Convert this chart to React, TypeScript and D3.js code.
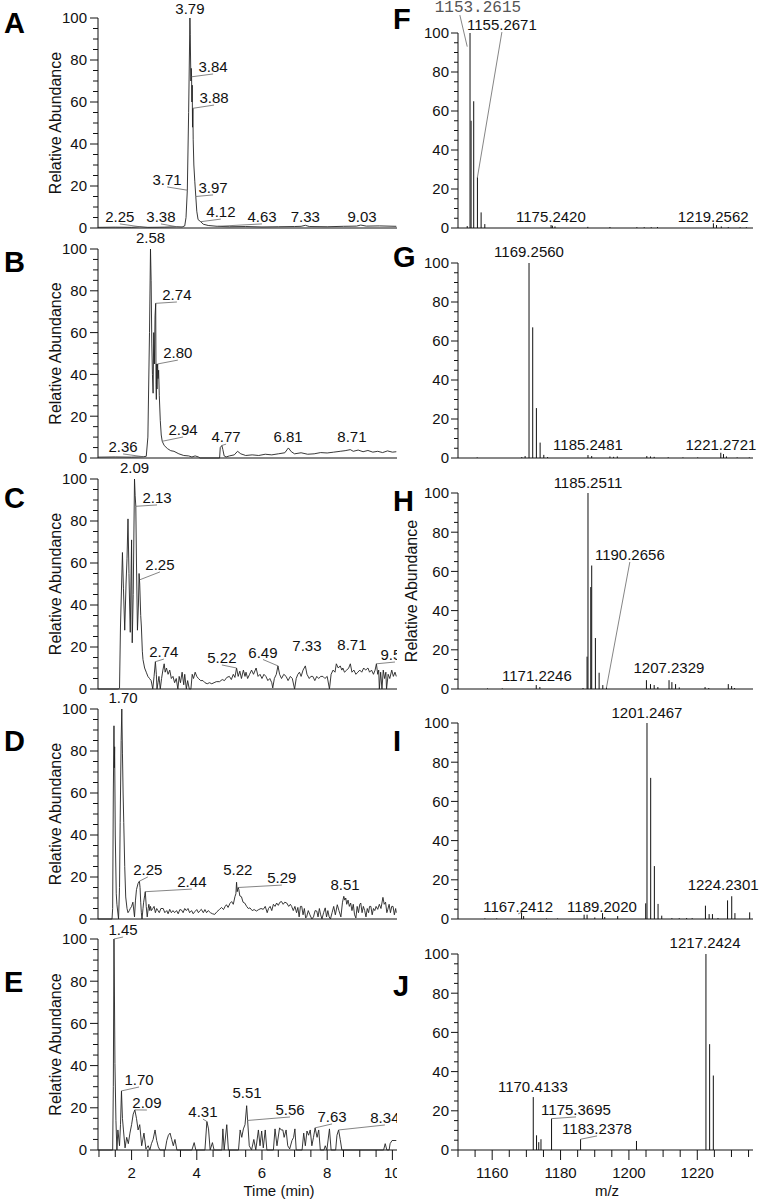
import React from 'react';
import * as d3 from 'd3';

type P = [number, number];

// ---------- Chromatograms (time min, relative abundance) ----------
const chromA: P[] = [[0.97,0.3],[1.5,0.4],[2.0,0.3],[2.25,0.6],[2.5,0.3],[3.0,0.4],[3.38,0.6],[3.55,0.5],[3.63,1],[3.67,5],[3.71,18],[3.75,55],[3.79,100],[3.80,92],[3.81,80],[3.82,70],[3.83,76],[3.84,72],[3.85,60],[3.86,68],[3.87,48],[3.88,57],[3.89,42],[3.91,30],[3.94,22],[3.97,15],[4.00,8],[4.04,4],[4.12,3],[4.2,1.8],[4.35,1.2],[4.63,0.8],[5.0,0.6],[5.5,0.7],[6.0,0.5],[6.5,0.6],[7.0,0.7],[7.2,0.8],[7.33,1.3],[7.45,0.7],[8.0,0.6],[8.5,0.8],[8.9,0.9],[9.03,1.4],[9.2,0.9],[9.6,1.0],[10.12,0.8]];

const chromB: P[] = [[0.97,0.4],[1.5,0.5],[2.0,0.4],[2.2,0.5],[2.36,0.6],[2.45,0.8],[2.5,10],[2.55,60],[2.58,100],[2.60,85],[2.62,55],[2.64,40],[2.66,31],[2.68,60],[2.70,45],[2.72,68],[2.74,74],[2.75,35],[2.76,28],[2.77,45],[2.78,33],[2.79,43],[2.80,45],[2.81,38],[2.83,42],[2.85,30],[2.88,18],[2.91,11],[2.94,8],[3.0,6],[3.1,4.5],[3.2,3.5],[3.3,3.2],[3.45,2],[3.6,1.2],[3.75,1],[3.85,0.5],[3.95,1],[4.05,0.5],[4.1,0],[4.7,0],[4.72,5],[4.77,6],[4.8,4],[4.84,1],[4.9,0.5],[5.0,1],[5.15,1.5],[5.25,3.2],[5.35,2],[5.5,1.2],[5.7,1.5],[5.9,1.2],[6.1,1.8],[6.3,1.5],[6.5,2],[6.7,2.5],[6.81,4.8],[6.9,3],[7.0,2],[7.2,2.5],[7.4,1.8],[7.6,2],[7.8,2.6],[8.0,2.4],[8.2,2.8],[8.4,3.2],[8.55,3.5],[8.71,4],[8.8,3.2],[8.95,3.8],[9.1,3],[9.25,3.6],[9.4,2.8],[9.55,3.2],[9.7,2.6],[9.85,3.4],[10.0,2.8],[10.12,3]];

const chromC: P[] = [[0.97,0],[1.6,0],[1.63,0.5],[1.66,30],[1.72,65],[1.75,48],[1.79,28],[1.83,50],[1.86,62],[1.89,81],[1.92,55],[1.94,40],[1.96,27],[1.98,50],[2.0,71],[2.02,22],[2.05,45],[2.09,100],[2.11,92],[2.13,87],[2.15,60],[2.18,28],[2.21,40],[2.23,55],[2.25,50],[2.28,35],[2.30,30],[2.33,18],[2.35,14],[2.40,10],[2.45,8],[2.50,6],[2.55,5],[2.60,4],[2.65,0],[2.69,6],[2.73,13],[2.76,7],[2.78,0],[2.81,3],[2.84,6],[2.88,0],[2.92,5],[2.96,9],[3.0,12],[3.03,8],[3.07,10],[3.12,7],[3.17,9],[3.22,5],[3.27,6],[3.32,3],[3.37,5],[3.42,0],[3.46,6],[3.50,3],[3.55,8],[3.60,2],[3.63,7],[3.68,0],[3.72,4],[3.77,0],[3.82,0],[3.86,7],[3.90,5],[3.95,8],[4.0,6],[4.05,5],[4.12,4],[4.19,4],[4.25,3],[4.32,2.5],[4.39,3],[4.46,2.5],[4.53,3],[4.6,3.5],[4.7,3.5],[4.78,4.5],[4.85,4],[4.92,5.5],[5.0,6],[5.06,4.5],[5.12,7],[5.17,5.5],[5.22,10],[5.27,6],[5.32,8.5],[5.37,5],[5.43,9],[5.48,6],[5.51,8],[5.56,5],[5.62,7],[5.68,9],[5.74,7],[5.82,10],[5.88,6],[5.94,7],[6.0,5],[6.06,7],[6.12,6],[6.18,4],[6.24,5],[6.30,3],[6.33,0.5],[6.38,5],[6.44,7],[6.49,11],[6.54,7],[6.60,5],[6.67,7],[6.74,6],[6.80,4],[6.87,6],[6.93,5],[7.0,0],[7.05,5],[7.10,7],[7.15,8],[7.2,6],[7.26,9],[7.33,11],[7.38,7],[7.45,5],[7.5,6],[7.56,6],[7.62,4],[7.68,6],[7.74,5],[7.8,6],[7.87,6],[7.93,5],[8.0,6],[8.07,0],[8.12,7],[8.18,9],[8.24,8],[8.28,12],[8.34,10],[8.4,11],[8.45,9],[8.48,10],[8.53,8],[8.6,9],[8.66,10],[8.71,12],[8.76,8],[8.82,9],[8.88,7],[8.94,8],[9.0,9],[9.06,8],[9.12,10],[9.18,9],[9.25,10],[9.3,8],[9.36,9],[9.42,7],[9.47,9],[9.51,12],[9.55,7],[9.58,9],[9.6,0],[9.64,8],[9.68,0],[9.72,9],[9.76,5],[9.8,8],[9.82,0],[9.87,7],[9.92,5],[9.98,9],[10.03,6],[10.08,8],[10.12,6]];

const chromD: P[] = [[0.97,0],[1.40,0],[1.42,5],[1.44,60],[1.46,92],[1.47,72],[1.48,82],[1.50,40],[1.53,12],[1.55,7],[1.60,0],[1.63,15],[1.65,46],[1.68,85],[1.70,100],[1.72,79],[1.74,60],[1.76,46],[1.79,25],[1.82,10.5],[1.86,5],[1.89,3],[1.93,4],[1.96,5],[2.0,6],[2.04,8],[2.09,1],[2.12,9],[2.15,14],[2.20,17],[2.24,18],[2.26,15],[2.28,8],[2.30,3],[2.32,0],[2.35,5],[2.37,8],[2.40,11],[2.42,13],[2.45,6],[2.48,1],[2.51,5],[2.53,7],[2.56,4],[2.58,6],[2.61,4],[2.65,5],[2.69,6],[2.73,3],[2.77,5],[2.81,4],[2.85,3],[2.9,5],[2.97,5],[3.02,3],[3.08,4],[3.12,2.5],[3.17,4.6],[3.22,3],[3.27,4],[3.32,3],[3.38,4],[3.43,2.5],[3.48,4.5],[3.53,4.3],[3.58,3],[3.63,5],[3.68,4],[3.73,5],[3.78,3],[3.84,4],[3.89,2.5],[3.94,3.5],[4.0,4.5],[4.05,3],[4.1,4],[4.14,4.6],[4.2,3],[4.25,4.5],[4.3,3],[4.35,4],[4.42,3],[4.48,2.5],[4.55,2.2],[4.62,3.5],[4.70,4.6],[4.76,5.5],[4.82,4.5],[4.87,6],[4.91,6.8],[4.96,5.5],[5.02,7.5],[5.07,8.3],[5.12,7],[5.17,10.6],[5.20,12],[5.22,17.5],[5.24,13],[5.27,15],[5.29,14],[5.32,11],[5.37,10.6],[5.42,8],[5.47,7.6],[5.53,6],[5.58,5],[5.63,5.3],[5.7,4],[5.76,4.5],[5.83,3.8],[5.9,4.5],[5.97,5],[6.04,4.6],[6.1,6],[6.16,3],[6.2,5],[6.25,6],[6.3,4],[6.35,7],[6.4,6],[6.45,7.6],[6.5,6.5],[6.55,8],[6.6,8.3],[6.65,7],[6.7,8],[6.76,7.6],[6.82,6],[6.87,7],[6.91,6],[6.96,4],[7.01,6],[7.06,3],[7.1,5.5],[7.14,1],[7.18,6],[7.22,6],[7.26,2],[7.3,5],[7.34,0.5],[7.37,1],[7.42,4],[7.47,2],[7.53,0],[7.58,1],[7.63,4],[7.68,3.8],[7.72,1],[7.76,5],[7.80,2],[7.84,0],[7.89,3],[7.94,5.3],[7.98,1],[8.02,4],[8.06,1],[8.1,0],[8.15,3],[8.2,6],[8.25,2],[8.31,6.8],[8.36,4],[8.42,1],[8.47,8],[8.51,10.8],[8.54,9],[8.57,10],[8.6,7],[8.64,9],[8.68,6],[8.72,7.6],[8.76,4],[8.8,7],[8.84,2],[8.88,0.5],[8.92,6],[8.96,3],[9.0,7],[9.03,7.6],[9.07,3],[9.11,6],[9.15,4],[9.19,1],[9.23,5],[9.27,3],[9.3,6],[9.34,6],[9.38,2],[9.42,5],[9.46,4],[9.5,6],[9.55,4.6],[9.6,7],[9.65,5],[9.71,10.3],[9.75,7],[9.79,8],[9.83,3],[9.86,4.6],[9.9,7],[9.94,3],[9.98,6],[10.02,6],[10.06,2],[10.1,5],[10.12,3]];

const chromE: P[] = [[0.97,0],[1.42,0],[1.44,30],[1.46,100],[1.47,82],[1.49,41],[1.52,14],[1.55,0],[1.58,9.5],[1.63,2],[1.66,12],[1.69,28],[1.72,15],[1.75,9.5],[1.80,1],[1.85,6],[1.90,3],[1.95,8],[2.0,12],[2.05,17],[2.10,19],[2.15,15],[2.2,9.5],[2.25,12],[2.31,2],[2.38,8],[2.44,0.5],[2.51,2],[2.56,0],[2.61,3],[2.66,5],[2.72,9.5],[2.77,4.5],[2.82,1.5],[2.87,0],[3.03,0],[3.08,4.5],[3.13,7],[3.18,8],[3.23,5],[3.28,2],[3.33,5],[3.39,0],[3.85,0],[3.92,3.5],[3.97,0],[4.25,0],[4.31,13.5],[4.36,10],[4.41,0],[4.48,3.5],[4.53,0],[4.77,0],[4.80,10],[4.84,0],[4.92,12],[4.97,0],[5.28,0],[5.33,9.5],[5.38,6],[5.43,10],[5.48,12],[5.53,21],[5.56,14],[5.61,2],[5.68,0],[5.75,5],[5.81,0],[5.89,9.5],[5.94,2],[5.99,9],[6.04,1],[6.10,9.5],[6.15,0],[6.35,0],[6.40,10],[6.46,2],[6.54,10.5],[6.59,9.5],[6.64,9.5],[6.68,6],[6.74,9.5],[6.79,2],[6.85,0.5],[6.92,4.5],[6.97,6],[7.01,10],[7.05,0],[7.23,0],[7.28,8],[7.33,2],[7.38,9],[7.43,7],[7.48,9.5],[7.53,2],[7.58,6],[7.63,10.5],[7.69,6],[7.74,9.5],[7.79,0],[7.90,0],[7.94,2],[7.99,0],[8.07,10],[8.12,0],[8.26,0],[8.30,7],[8.35,9.5],[8.40,5],[8.45,0],[9.73,0],[9.78,3],[9.83,0],[9.90,0],[9.93,3],[9.99,4.5],[10.12,4.5]];

// ---------- Mass spectra (m/z, relative abundance) ----------
const specF: P[] = [[1152.5,1],[1153.26,100],[1153.55,55],[1154.26,65],[1155.27,26],[1156.27,8],[1157.27,2],[1175.24,1.5],[1175.6,1.2],[1176.3,0.8],[1185.2,0.6],[1191.2,0.5],[1198.5,0.4],[1200.5,0.4],[1202.4,0.4],[1204.1,0.5],[1219.26,2.4],[1220.1,1.5],[1221.4,0.8],[1223.3,0.5],[1226.5,0.4],[1228.2,0.4]];
const specG: P[] = [[1155.2,0.3],[1167.3,0.5],[1168.2,1],[1169.26,100],[1170.26,67],[1171.26,25.6],[1172.27,7.9],[1173.27,1.6],[1174.3,0.5],[1185.25,1.5],[1186.25,1],[1191.2,0.8],[1192.2,0.6],[1193.2,0.8],[1201.2,1],[1202.2,0.8],[1203.2,0.6],[1207.0,0.4],[1211.0,0.3],[1215.0,0.3],[1221.27,2.7],[1222.0,2],[1222.8,0.8],[1225.7,0.3],[1229,0.3]];
const specH: P[] = [[1158,0.3],[1162,0.3],[1171.22,2],[1172.2,1],[1183.9,0.5],[1185.0,16.5],[1185.25,100],[1186.0,52],[1186.26,63],[1187.26,26],[1188.27,8.3],[1189.27,2],[1190.27,0.8],[1201.1,4.5],[1202.2,2.5],[1203.2,2],[1204.2,1],[1207.23,4.5],[1208.0,3.5],[1209.0,2.5],[1210.0,0.8],[1217.0,1],[1218.0,0.5],[1223.3,2.5],[1224.2,1.5],[1225.0,0.5]];
const specI: P[] = [[1157.3,0.3],[1160.5,0.3],[1167.24,3.4],[1167.8,1.5],[1174,0.3],[1177,0.3],[1184.2,2.2],[1185.0,2.2],[1187.1,0.8],[1189.2,3],[1189.8,1],[1193.3,1.5],[1200.9,8],[1201.25,100],[1202.25,72],[1203.25,27],[1204.25,7.7],[1205.25,1.7],[1208,0.4],[1210,0.4],[1212,0.5],[1213.5,0.4],[1217.1,6.8],[1218.1,2.5],[1219.0,2.5],[1220.5,0.5],[1223.1,9.5],[1224.23,11.6],[1225.1,3],[1229.1,3.4]];
const specJ: P[] = [[1170.41,27],[1171.3,7.5],[1171.9,4],[1172.5,5.5],[1175.37,16],[1183.24,5.5],[1198.4,4.6],[1217.24,100],[1218.24,54],[1219.24,38]];

// ---------- Peak annotations ----------
interface PeakLabel { text: string; t: number; v: number; lt: number; lv: number; lead?: boolean; jt?: number; jv?: number; mono?: boolean }

const labelsA: PeakLabel[] = [
  { text: '3.79', t: 3.79, v: 100, lt: 3.79, lv: 102 },
  { text: '3.84', t: 3.84, v: 72, lt: 4.50, lv: 74.3, lead: true },
  { text: '3.88', t: 3.88, v: 57, lt: 4.53, lv: 59.5, lead: true },
  { text: '3.71', t: 3.71, v: 18, lt: 3.09, lv: 20.5, lead: true },
  { text: '3.97', t: 3.97, v: 15, lt: 4.50, lv: 16.7, lead: true },
  { text: '4.12', t: 4.12, v: 3, lt: 4.74, lv: 5.2, lead: true },
  { text: '4.63', t: 4.63, v: 0.8, lt: 6.0, lv: 2.9, lead: true },
  { text: '7.33', t: 7.33, v: 1.3, lt: 7.33, lv: 2.9 },
  { text: '9.03', t: 9.03, v: 1.4, lt: 9.07, lv: 2.9 },
  { text: '2.25', t: 2.25, v: 0.6, lt: 1.64, lv: 2.9, lead: true },
  { text: '3.38', t: 3.38, v: 0.6, lt: 2.90, lv: 2.9, lead: true },
];
const labelsB: PeakLabel[] = [
  { text: '2.58', t: 2.58, v: 100, lt: 2.58, lv: 103 },
  { text: '2.74', t: 2.74, v: 74, lt: 3.39, lv: 75.6, lead: true },
  { text: '2.80', t: 2.80, v: 45, lt: 3.42, lv: 47.8, lead: true },
  { text: '2.94', t: 2.94, v: 8, lt: 3.58, lv: 11, lead: true },
  { text: '2.36', t: 2.36, v: 0.6, lt: 1.74, lv: 2.9, lead: true },
  { text: '4.77', t: 4.77, v: 6, lt: 4.90, lv: 7.6, lead: true },
  { text: '6.81', t: 6.81, v: 4.8, lt: 6.80, lv: 7.6 },
  { text: '8.71', t: 8.71, v: 4, lt: 8.76, lv: 7.6 },
];
const labelsC: PeakLabel[] = [
  { text: '2.09', t: 2.09, v: 100, lt: 2.09, lv: 103 },
  { text: '2.13', t: 2.13, v: 87, lt: 2.78, lv: 88.6, lead: true },
  { text: '2.25', t: 2.25, v: 52, lt: 2.87, lv: 56.7, lead: true },
  { text: '2.74', t: 2.73, v: 13, lt: 2.99, lv: 15.2, lead: true },
  { text: '5.22', t: 5.22, v: 10, lt: 4.77, lv: 12.4, lead: true },
  { text: '6.49', t: 6.49, v: 11, lt: 6.03, lv: 15, lead: true },
  { text: '7.33', t: 7.33, v: 11, lt: 7.38, lv: 18 },
  { text: '8.71', t: 8.71, v: 12, lt: 8.76, lv: 18.6 },
  { text: '9.52', t: 9.51, v: 12, lt: 10.08, lv: 13.8, lead: true },
];
const labelsD: PeakLabel[] = [
  { text: '1.70', t: 1.70, v: 100, lt: 1.74, lv: 103 },
  { text: '2.25', t: 2.24, v: 18, lt: 2.50, lv: 21, lead: true },
  { text: '2.44', t: 2.42, v: 13, lt: 3.85, lv: 15.2, lead: true },
  { text: '5.22', t: 5.22, v: 17.5, lt: 5.26, lv: 21 },
  { text: '5.29', t: 5.27, v: 15, lt: 6.61, lv: 17.1, lead: true },
  { text: '8.51', t: 8.51, v: 10.8, lt: 8.55, lv: 13.8 },
];
const labelsE: PeakLabel[] = [
  { text: '1.45', t: 1.46, v: 100, lt: 1.74, lv: 101.9, lead: true },
  { text: '1.70', t: 1.69, v: 28, lt: 2.23, lv: 30.8, lead: true },
  { text: '2.09', t: 2.10, v: 19, lt: 2.47, lv: 19.9, lead: true },
  { text: '4.31', t: 4.31, v: 13.5, lt: 4.19, lv: 15.6, lead: true },
  { text: '5.51', t: 5.53, v: 21, lt: 5.54, lv: 24.6 },
  { text: '5.56', t: 5.56, v: 14, lt: 6.86, lv: 16.6, lead: true },
  { text: '7.63', t: 7.63, v: 10.5, lt: 8.15, lv: 13.3, lead: true },
  { text: '8.34', t: 8.35, v: 9.5, lt: 9.77, lv: 12.8, lead: true },
];
const labelsF: PeakLabel[] = [
  { text: '1153.2615', t: 1152.5, v: 93, lt: 1155.4, lv: 110.8, lead: true, jt: 1150.5, jv: 109.2, mono: true },
  { text: '1155.2671', t: 1155.27, v: 26, lt: 1161.9, lv: 101.5, lead: true },
  { text: '1175.2420', t: 1175.24, v: 1.5, lt: 1175.2, lv: 3.1 },
  { text: '1219.2562', t: 1219.26, v: 2.4, lt: 1219.2, lv: 3.1 },
];
const labelsG: PeakLabel[] = [
  { text: '1169.2560', t: 1169.26, v: 100, lt: 1169.26, lv: 103 },
  { text: '1185.2481', t: 1185.25, v: 1.5, lt: 1185.25, lv: 4.1 },
  { text: '1221.2721', t: 1221.27, v: 2.7, lt: 1221.3, lv: 4.1 },
];
const labelsH: PeakLabel[] = [
  { text: '1185.2511', t: 1185.25, v: 100, lt: 1185.25, lv: 102.6 },
  { text: '1190.2656', t: 1190.27, v: 0.8, lt: 1196.6, lv: 65.8, lead: true },
  { text: '1171.2246', t: 1171.22, v: 2, lt: 1171.4, lv: 4.1 },
  { text: '1207.2329', t: 1207.23, v: 4.5, lt: 1207.2, lv: 8.2 },
];
const labelsI: PeakLabel[] = [
  { text: '1201.2467', t: 1201.25, v: 100, lt: 1201.25, lv: 102.6 },
  { text: '1167.2412', t: 1167.24, v: 3.4, lt: 1166.3, lv: 3.6, lead: true },
  { text: '1189.2020', t: 1189.2, v: 3, lt: 1189.05, lv: 3.6 },
  { text: '1224.2301', t: 1224.23, v: 11.6, lt: 1221.9, lv: 14.8 },
];
const labelsJ: PeakLabel[] = [
  { text: '1217.2424', t: 1217.24, v: 100, lt: 1217.0, lv: 103 },
  { text: '1170.4133', t: 1170.41, v: 27, lt: 1170.3, lv: 29.6 },
  { text: '1175.3695', t: 1175.37, v: 16, lt: 1182.0, lv: 17.9, lead: true },
  { text: '1183.2378', t: 1183.24, v: 5.5, lt: 1187.7, lv: 8.2, lead: true },
];

// ---------- Axes ----------
const yMajor = [0, 20, 40, 60, 80, 100];
const yMinor = d3.range(5, 100, 5).filter((v) => v % 20 !== 0);
const timeMajor = [2, 4, 6, 8, 10];
const timeMinor = d3.range(1, 10.01, 0.5).filter((v) => !timeMajor.includes(v));
const mzMajor = [1160, 1180, 1200, 1220];
const mzMinor = d3.range(1150, 1236, 5).filter((v) => !mzMajor.includes(v));
const timeDomain: [number, number] = [0.97, 10.12];
const mzDomain: [number, number] = [1150, 1230];
const mzAxisDomain: [number, number] = [1150, 1236.3]; // axis labelling as printed under J

const FONT = "'Liberation Sans', Arial, Helvetica, sans-serif";
const MONO = "'Liberation Mono', 'DejaVu Sans Mono', 'Courier New', monospace";

type Scale = d3.ScaleLinear<number, number>;

function Labels({ labels, x, y }: { labels: PeakLabel[]; x: Scale; y: Scale }) {
  return (
    <g>
      {labels.map((l, i) => {
        const px = x(l.t), py = y(l.v), tx = x(l.lt), ty = y(l.lv);
        const jx = l.jt != null ? x(l.jt) : tx;
        const jy = l.jv != null ? y(l.jv) : ty + 2;
        return (
          <g key={i}>
            {l.lead && <line x1={px} y1={py} x2={jx} y2={jy} stroke="#666" strokeWidth={0.8} />}
            <text x={tx} y={ty} textAnchor="middle" fontSize={l.mono ? 16 : 15}
              fontFamily={l.mono ? MONO : FONT} fill={l.mono ? '#555' : '#111'}>{l.text}</text>
          </g>
        );
      })}
    </g>
  );
}

function YAxis({ y, x0, left }: { y: Scale; x0: number; left: boolean }) {
  const maj = left ? 8 : 7, min = left ? 5 : 4, off = left ? 11 : 9;
  return (
    <g>
      <line x1={x0} x2={x0} y1={y(100)} y2={y(0)} stroke="#111" strokeWidth={1} />
      {yMajor.map((v) => (
        <g key={'M' + v}>
          <line x1={x0 - maj} x2={x0} y1={y(v)} y2={y(v)} stroke="#111" strokeWidth={1} />
          <text x={x0 - off} y={y(v)} dy="0.36em" textAnchor="end" fontSize={15} fontFamily={FONT} fill="#111">{v}</text>
        </g>
      ))}
      {yMinor.map((v) => (
        <line key={'m' + v} x1={x0 - min} x2={x0} y1={y(v)} y2={y(v)} stroke="#111" strokeWidth={1} />
      ))}
    </g>
  );
}

const leftPanels = [
  { letter: 'A', top: 18, bottom: 228, ly: 33, data: chromA, labels: labelsA },
  { letter: 'B', top: 249, bottom: 458, ly: 272, data: chromB, labels: labelsB },
  { letter: 'C', top: 479, bottom: 689, ly: 508, data: chromC, labels: labelsC },
  { letter: 'D', top: 709, bottom: 919, ly: 751, data: chromD, labels: labelsD },
  { letter: 'E', top: 939, bottom: 1150, ly: 992, data: chromE, labels: labelsE },
];
const rightPanels = [
  { letter: 'F', top: 33, bottom: 228, ly: 29, data: specF, labels: labelsF },
  { letter: 'G', top: 263, bottom: 458, ly: 267, data: specG, labels: labelsG },
  { letter: 'H', top: 493, bottom: 689, ly: 511, data: specH, labels: labelsH },
  { letter: 'I', top: 723, bottom: 919, ly: 751, data: specI, labels: labelsI },
  { letter: 'J', top: 954, bottom: 1150, ly: 996, data: specJ, labels: labelsJ },
];

export default function App() {
  const LX0 = 98, LX1 = 396.3, CLIP = 397;
  const RX0 = 458, RX1 = 753;
  const xT = d3.scaleLinear().domain(timeDomain).range([LX0, LX1]);
  const xM = d3.scaleLinear().domain(mzDomain).range([RX0, RX1]);
  const xMA = d3.scaleLinear().domain(mzAxisDomain).range([RX0, RX1]);

  return (
    <svg width={769} height={1201} viewBox="0 0 769 1201"
      style={{ position: 'absolute', left: 0, top: 0, background: '#fff' }}>
      <defs>
        <clipPath id="leftClip"><rect x={0} y={0} width={CLIP} height={1201} /></clipPath>
      </defs>
      <rect x={0} y={0} width={769} height={1201} fill="#fff" />

      {leftPanels.map((p, i) => {
        const y = d3.scaleLinear().domain([0, 100]).range([p.bottom, p.top]);
        const line = d3.line<P>().x((d) => xT(d[0])).y((d) => y(d[1]));
        const isLast = i === leftPanels.length - 1;
        return (
          <g key={p.letter}>
            <text x={4} y={p.ly} fontSize={29} fontWeight="bold" fontFamily={FONT} fill="#000">{p.letter}</text>
            <text transform={`translate(61,${(p.top + p.bottom) / 2}) rotate(-90)`} textAnchor="middle"
              fontSize={16} fontFamily={FONT} fill="#111">Relative Abundance</text>
            <YAxis y={y} x0={LX0} left={true} />
            <g clipPath="url(#leftClip)">
              <line x1={LX0} x2={CLIP + 2} y1={y(0)} y2={y(0)} stroke="#111" strokeWidth={1} />
              {isLast && timeMajor.map((t) => (
                <g key={'tM' + t}>
                  <line x1={xT(t)} x2={xT(t)} y1={y(0)} y2={y(0) + 10} stroke="#111" strokeWidth={1} />
                  <text x={xT(t)} y={y(0) + 28} textAnchor="middle" fontSize={15} fontFamily={FONT} fill="#111">{t}</text>
                </g>
              ))}
              {isLast && timeMinor.map((t) => (
                <line key={'tm' + t} x1={xT(t)} x2={xT(t)} y1={y(0)} y2={y(0) + 7} stroke="#111" strokeWidth={1} />
              ))}
              <path d={line(p.data) || ''} fill="none" stroke="#222" strokeWidth={0.9} strokeLinejoin="round" />
              <Labels labels={p.labels} x={xT} y={y} />
            </g>
            {isLast && (
              <text x={279} y={y(0) + 46} textAnchor="middle" fontSize={15} fontFamily={FONT} fill="#111">Time (min)</text>
            )}
          </g>
        );
      })}

      {rightPanels.map((p, i) => {
        const y = d3.scaleLinear().domain([0, 100]).range([p.bottom, p.top]);
        const isLast = i === rightPanels.length - 1;
        return (
          <g key={p.letter}>
            <text x={393} y={p.ly} fontSize={29} fontWeight="bold" fontFamily={FONT} fill="#000">{p.letter}</text>
            {p.letter === 'H' && (
              <text transform={`translate(417,${(p.top + p.bottom) / 2}) rotate(-90)`} textAnchor="middle"
                fontSize={16} fontFamily={FONT} fill="#111">Relative Abundance</text>
            )}
            <YAxis y={y} x0={RX0} left={false} />
            <line x1={RX0} x2={RX1} y1={y(0)} y2={y(0)} stroke="#111" strokeWidth={1} />
            {isLast && mzMajor.map((m) => (
              <g key={'mM' + m}>
                <line x1={xMA(m)} x2={xMA(m)} y1={y(0)} y2={y(0) + 10} stroke="#111" strokeWidth={1} />
                <text x={xMA(m)} y={y(0) + 28} textAnchor="middle" fontSize={15} fontFamily={FONT} fill="#111">{m}</text>
              </g>
            ))}
            {isLast && mzMinor.map((m) => (
              <line key={'mm' + m} x1={xMA(m)} x2={xMA(m)} y1={y(0)} y2={y(0) + 7} stroke="#111" strokeWidth={1} />
            ))}
            {p.data.map((d, k) => (
              <line key={k} x1={xM(d[0])} x2={xM(d[0])} y1={y(0)} y2={y(d[1])} stroke="#111" strokeWidth={1} />
            ))}
            <Labels labels={p.labels} x={xM} y={y} />
            {isLast && (
              <text x={607} y={y(0) + 46} textAnchor="middle" fontSize={15} fontFamily={FONT} fill="#111">m/z</text>
            )}
          </g>
        );
      })}
    </svg>
  );
}
